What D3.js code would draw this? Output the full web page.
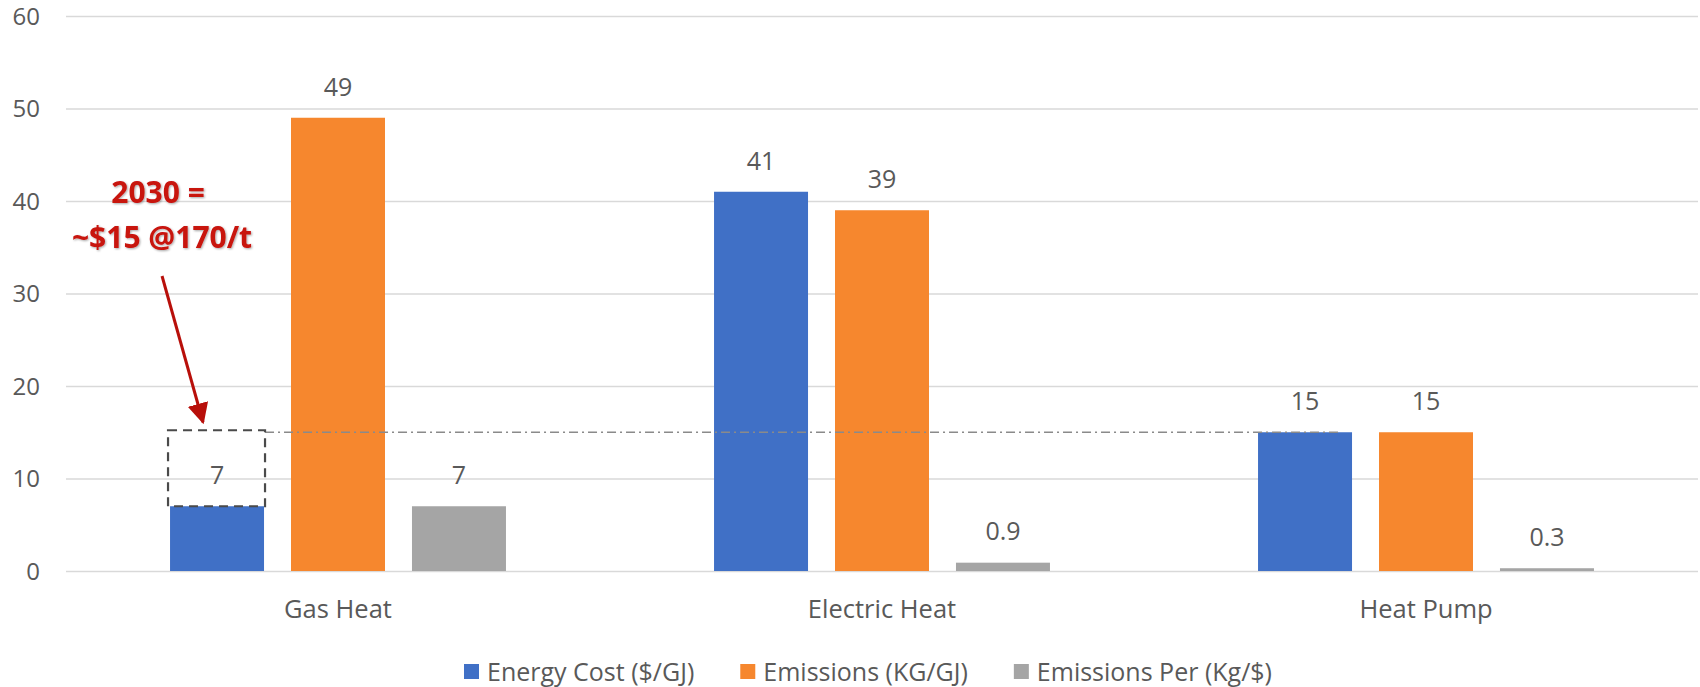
<!DOCTYPE html>
<html>
<head>
<meta charset="utf-8">
<script src="https://cdn.jsdelivr.net/npm/d3@7/dist/d3.min.js"></script>
<style>
  html, body { margin: 0; padding: 0; background: #ffffff; }
  svg { display: block; }
  text { font-family: "Open Sans", "Noto Sans", sans-serif; }
</style>
</head>
<body>
<svg id="chart" width="1700" height="687"></svg>
<script>
// Heating options compared on cost and emissions
const categories = ["Gas Heat", "Electric Heat", "Heat Pump"];
const seriesNames = ["Energy Cost ($/GJ)", "Emissions (KG/GJ)", "Emissions Per (Kg/$)"];
const energyCost = [7, 41, 15];
const emissions = [49, 39, 15];
const emissionsPer = [7, 0.9, 0.3];
const seriesColors = ["#4070C6", "#F6872E", "#A5A5A5"];
const yTicks = [0, 10, 20, 30, 40, 50, 60];

// 2030 carbon-price callout
const targetCost = 15;
const calloutLines = ["2030 =", "~$15 @170/t"];

const seriesValues = [energyCost, emissions, emissionsPer];
const rows = categories.map((c, i) => ({
  category: c,
  values: seriesNames.map((s, j) => ({ series: s, value: seriesValues[j][i], color: seriesColors[j] }))
}));

const svg = d3.select("#chart");
const plot = { left: 66, right: 1698, top: 16, bottom: 571 };

const x0 = d3.scaleBand().domain(categories).range([plot.left, plot.right]).padding(0);
const x1 = d3.scaleBand().domain(seriesNames).range([0, x0.bandwidth()])
  .paddingInner(0.223).paddingOuter(0.86);
const y = d3.scaleLinear().domain([0, 60]).range([plot.bottom, plot.top]);

const defs = svg.append("defs");
defs.append("marker")
  .attr("id", "arrowhead")
  .attr("viewBox", "0 0 10 10")
  .attr("refX", 9).attr("refY", 5)
  .attr("markerWidth", 7).attr("markerHeight", 7)
  .attr("markerUnits", "strokeWidth")
  .attr("orient", "auto")
  .append("path").attr("d", "M0,0 L10,5 L0,10 z").attr("fill", "#B80F0A");
const shadow = defs.append("filter").attr("id", "calloutShadow")
  .attr("x", "-10%").attr("y", "-20%").attr("width", "120%").attr("height", "140%");
shadow.append("feDropShadow").attr("dx", 1).attr("dy", 1).attr("stdDeviation", 0.8)
  .attr("flood-color", "#000").attr("flood-opacity", 0.35);

// Gridlines and y labels via the axis generator
const yAxis = d3.axisLeft(y).tickValues(yTicks).tickSize(-(plot.right - plot.left)).tickPadding(26);
const gy = svg.append("g").attr("transform", `translate(${plot.left},0)`).call(yAxis);
gy.select(".domain").remove();
gy.selectAll(".tick line").attr("stroke", "#D9D9D9").attr("stroke-width", 1.6);
gy.selectAll(".tick text")
  .attr("fill", "#595959").style("font-size", "24px")
  .attr("dy", "0.35em");

// Bars
const groups = svg.append("g").selectAll("g").data(rows).join("g")
  .attr("transform", d => `translate(${x0(d.category)},0)`);

groups.selectAll("rect").data(d => d.values).join("rect")
  .attr("x", d => x1(d.series))
  .attr("width", x1.bandwidth())
  .attr("y", d => y(d.value))
  .attr("height", d => y(0) - y(d.value))
  .attr("fill", d => d.color);

// Value labels
groups.selectAll("text.val").data(d => d.values).join("text")
  .attr("class", "val")
  .attr("x", d => x1(d.series) + x1.bandwidth() / 2)
  .attr("y", d => y(d.value) - 31)
  .attr("dy", "0.35em")
  .attr("text-anchor", "middle")
  .attr("fill", "#595959")
  .style("font-size", "25px")
  .text(d => d.value < 1 ? d.value.toFixed(1) : String(d.value));

// Category axis labels
const xAxis = d3.axisBottom(x0).tickSize(0).tickPadding(0);
const gx = svg.append("g").attr("transform", `translate(0,${plot.bottom})`).call(xAxis);
gx.select(".domain").remove();
gx.selectAll(".tick text")
  .attr("y", 38).attr("dy", "0.35em")
  .attr("fill", "#595959").style("font-size", "25.5px");

// Callout: ghost bar at the 2030 price, reference line, arrow and note
const gasX = x0(categories[0]) + x1(seriesNames[0]);
const bw = x1.bandwidth();
const hpX = x0(categories[2]) + x1(seriesNames[0]);

svg.append("line")
  .attr("x1", gasX + bw + 1).attr("x2", hpX + bw - 10)
  .attr("y1", y(targetCost)).attr("y2", y(targetCost))
  .attr("stroke", "#8A8A8A").attr("stroke-width", 1.3)
  .attr("stroke-dasharray", "9,4,2,4");

svg.append("rect")
  .attr("x", gasX - 2).attr("width", bw + 3)
  .attr("y", y(targetCost) - 2)
  .attr("height", y(energyCost[0]) - y(targetCost) + 2)
  .attr("fill", "none")
  .attr("stroke", "#4A4A4A").attr("stroke-width", 2.2)
  .attr("stroke-dasharray", "9,6");

const noteCx = gasX - 12;
const note = svg.append("g").attr("filter", "url(#calloutShadow)");
note.selectAll("text").data(calloutLines).join("text")
  .attr("x", (d, i) => noteCx + (i === 0 ? 0 : 4))
  .attr("y", (d, i) => 192 + i * 45)
  .attr("dy", "0.35em")
  .attr("text-anchor", "middle")
  .attr("fill", "#C8120C")
  .style("font-size", "30px")
  .style("font-weight", "700")
  .text(d => d);

svg.append("line")
  .attr("x1", noteCx + 4).attr("y1", 276)
  .attr("x2", gasX + 33).attr("y2", y(targetCost) - 10)
  .attr("stroke", "#B80F0A").attr("stroke-width", 3)
  .attr("marker-end", "url(#arrowhead)");

// Legend, centred under the plot
const legend = svg.append("g").attr("transform", "translate(0,672)");
const items = legend.selectAll("g").data(seriesNames).join("g");
items.append("rect")
  .attr("width", 15).attr("height", 15).attr("y", -8)
  .attr("fill", (d, i) => seriesColors[i]);
items.append("text")
  .attr("x", 23).attr("dy", "0.35em")
  .attr("fill", "#595959").style("font-size", "25px")
  .text(d => d);
const widths = [];
items.each(function () { widths.push(23 + this.querySelector("text").getComputedTextLength()); });
const gap = 46;
const total = d3.sum(widths) + gap * (widths.length - 1);
let cursor = 868 - total / 2;
items.attr("transform", (d, i) => {
  const t = `translate(${cursor},0)`;
  cursor += widths[i] + gap;
  return t;
});
</script>
</body>
</html>
